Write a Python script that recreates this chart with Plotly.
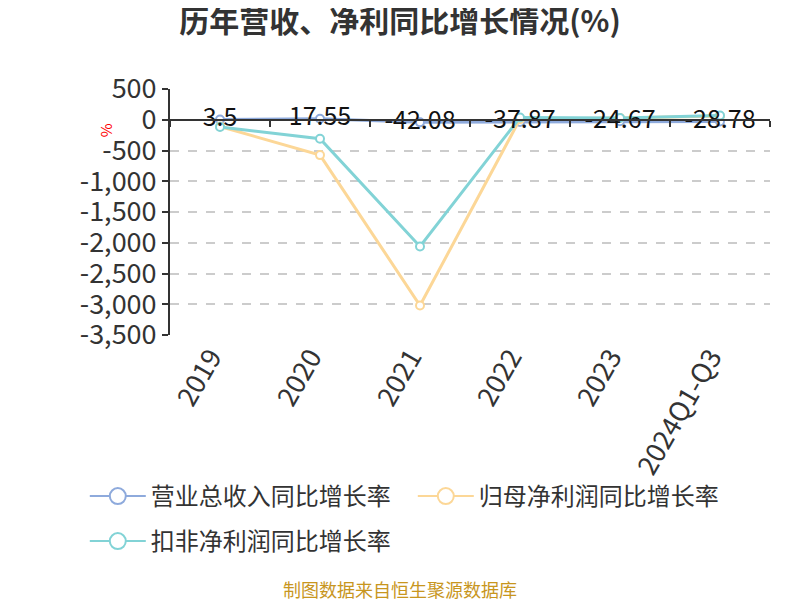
import plotly.graph_objects as go

categories = ["2019", "2020", "2021", "2022", "2023", "2024Q1-Q3"]
revenue_growth = [3.5, 17.55, -42.08, -37.87, -24.67, -28.78]
parent_profit_growth = [-110, -575, -3020, 10, 30, 60]
deducted_profit_growth = [-118, -308, -2060, 37, 28, 70]

series_names = ["营业总收入同比增长率", "归母净利润同比增长率", "扣非净利润同比增长率"]
colors = ["#8eaadc", "#fcd797", "#82d3d6"]

y_tickvals = [500, 0, -500, -1000, -1500, -2000, -2500, -3000, -3500]
y_ticktext = ["500", "0", "-500", "-1,000", "-1,500", "-2,000", "-2,500", "-3,000", "-3,500"]

FONT = "Noto Sans CJK SC"

fig = go.Figure()
values = [revenue_growth, parent_profit_growth, deducted_profit_growth]
for i, (name, vals, col) in enumerate(zip(series_names, values, colors)):
    fig.add_trace(go.Scatter(
        x=categories, y=vals, name=name, mode="lines+markers",
        line=dict(color=col, width=3),
        marker=dict(symbol="circle", size=8, color="white", line=dict(color=col, width=2)),
        showlegend=False,
    ))

# data labels for revenue growth
fig.add_trace(go.Scatter(
    x=categories, y=revenue_growth, mode="text",
    text=[str(v) for v in revenue_growth], textposition="middle center",
    textfont=dict(family=FONT, size=25, color="#111"),
    showlegend=False, hoverinfo="skip",
))

# legend entries
for i, (name, col) in enumerate(zip(series_names, colors)):
    fig.add_trace(go.Scatter(
        x=[None], y=[None], name=name, mode="lines+markers",
        line=dict(color=col, width=2),
        marker=dict(symbol="circle", size=20, color="white", line=dict(color=col, width=2)),
        legend="legend" if i < 2 else "legend2",
    ))

# zero-line axis helper trace
fig.add_trace(go.Scatter(x=[None], y=[None], xaxis="x2", showlegend=False))

fig.update_layout(
    width=800, height=600,
    margin=dict(l=162, r=38, t=81, b=273, autoexpand=False),
    plot_bgcolor="white", paper_bgcolor="white",
    font=dict(family=FONT, color="#333"),
    title=dict(text="<b>历年营收、净利同比增长情况(%)</b>", x=0.49, xanchor="center",
               y=0.977, yanchor="middle", font=dict(size=30, color="#333", family=FONT)),
    xaxis=dict(type="category", range=[-0.5, 5.5], showline=False, showgrid=False,
               ticks="", tickangle=-60, tickfont=dict(size=27, color="#333", family=FONT),
               ticklabelshift=-9, zeroline=False, automargin=False),
    xaxis2=dict(overlaying="x", anchor="free", position=0.875, range=[-0.5, 5.5],
                tickvals=[-0.5, 0.5, 1.5, 2.5, 3.5, 4.5, 5.5], showticklabels=False,
                ticks="outside", ticklen=6, tickcolor="#333", tickwidth=2,
                showline=True, linecolor="#333", linewidth=2, showgrid=False, zeroline=False),
    yaxis=dict(range=[-3500, 500], tickvals=y_tickvals, ticktext=y_ticktext,
               showline=True, linecolor="#333", linewidth=2, ticks="outside", ticklen=6,
               tickcolor="#333", tickwidth=2, tickfont=dict(size=27, color="#333", family=FONT),
               showgrid=True, gridcolor="#cccccc", griddash="dash", gridwidth=1.5, zeroline=False,
               automargin=False),
    legend=dict(orientation="h", x=-0.142, xanchor="left", y=-0.565, yanchor="top",
                font=dict(size=24, color="#333", family=FONT), entrywidth=257, itemwidth=56,
                bgcolor="rgba(0,0,0,0)"),
    legend2=dict(orientation="h", x=-0.142, xanchor="left", y=-0.748, yanchor="top",
                 font=dict(size=24, color="#333", family=FONT), itemwidth=56,
                 bgcolor="rgba(0,0,0,0)"),
    annotations=[
        dict(text="%", xref="paper", yref="paper", x=-0.108, y=0.833, showarrow=False,
             xanchor="center", yanchor="middle",
             textangle=-90, font=dict(size=15, color="red", family=FONT)),
        dict(text="制图数据来自恒生聚源数据库", xref="paper", yref="paper", x=0.383, y=-1.033,
             xanchor="center", yanchor="middle", showarrow=False,
             font=dict(size=18, color="#c8961e", family=FONT)),
    ],
)

fig.write_html("out.html")
